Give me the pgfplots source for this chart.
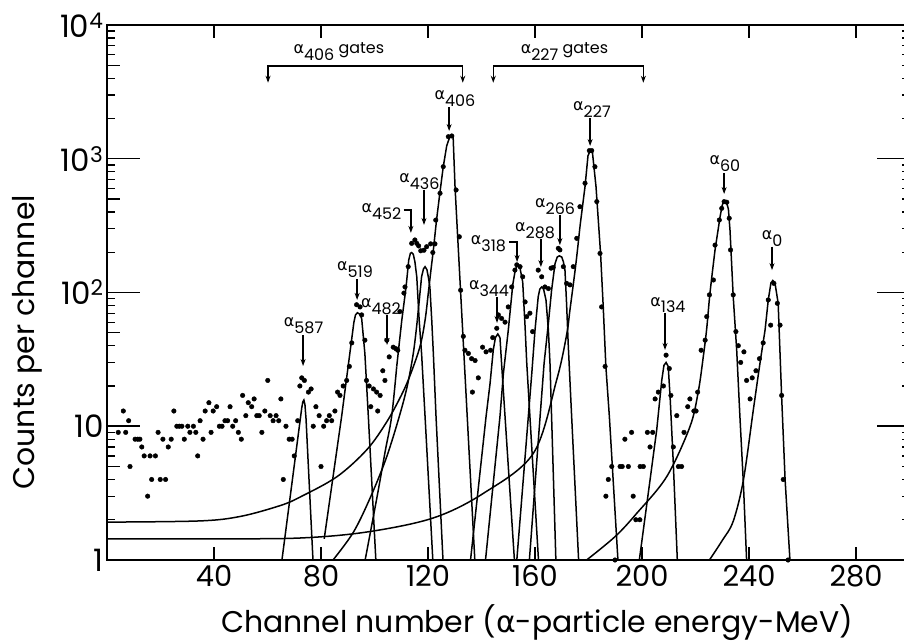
\documentclass[border=0pt]{standalone}
\usepackage{pgfplots}
\pgfplotsset{compat=1.18}
\usepackage{fontspec}
\setmainfont{Poppins}
\newfontfamily\grk{DejaVu Sans}
\usetikzlibrary{arrows.meta}

% peak label: alpha with lowered level energy
\newcommand{\al}[1]{{\grk α}\raisebox{-0.42em}{#1}}

\begin{document}
\begin{tikzpicture}[x=1bp,y=1bp]
\useasboundingbox (-107,-84) rectangle (797,560);
\begin{axis}[
  at={(0,0)}, anchor=south west,
  scale only axis, width=802.5bp, height=535bp,
  xmin=0, xmax=300, ymin=1, ymax=10000, ymode=log,
  clip mode=individual,
  axis line style={line width=2bp},
  xtick={40,80,120,160,200,240,280},
  xticklabels={40,80,120,160,200,240,280},
  ytick={1,10,100,1000,10000},
  yticklabels={1,10,10\textsuperscript{2},10\textsuperscript{3},10\textsuperscript{4}},
  minor ytick={2,3,4,5,6,7,8,9,20,30,40,50,60,70,80,90,200,300,400,500,600,700,800,900,2000,3000,4000,5000,6000,7000,8000,9000},
  tick style={black, line width=1.3bp},
  major tick length=13bp, minor tick length=8bp,
  xticklabel style={font=\fontsize{29}{29}\selectfont, yshift=-2bp},
  yticklabel style={font=\fontsize{31}{31}\selectfont},
  every axis plot/.append style={black},
]

% measured counts per channel
\addplot[only marks, mark=*, mark size=2.3bp] coordinates {
(4.2,9)(6.1,13)(7.0,9)(8.1,11)(8.6,5)(10.5,8)(11.5,8)(12.3,8)(13.0,7)(13.9,6)
(15.2,3)(16.1,6)(16.7,4)(18.1,6)(19.1,9)(19.9,4)(20.9,8)(21.9,4)(22.9,7)(24.0,8)
(25.0,13)(26.1,10)(27.0,10)(28.0,10)(28.9,8)(30.2,10)(31.0,9)(32.3,10)(33.2,9)(33.9,6)
(34.8,11)(35.9,8)(36.7,13)(38.1,15)(38.9,9)(39.7,13)(41.0,14)(42.0,10)(43.0,10)(44.1,11)
(45.1,11)(46.0,14)(47.0,10)(48.1,11)(49.1,9)(50.2,8)(50.7,17)(51.9,12)(52.8,15)(54.1,14)
(55.0,16)(56.0,12)(56.9,12)(57.9,9)(59.0,13)(60.1,22)(61.0,12)(62.1,11)(63.2,12)(64.2,11)
(65.0,16)(65.9,4)(66.9,10)(68.1,8)(69.2,8)(70.0,6)(71.3,11)(72.1,20)(72.8,23)(73.8,22)
(75.3,18)(76.3,19)(77.1,10)(78.1,14)(79.3,12)(80.0,5)(81.0,10)(82.1,11)(83.1,12)(84.0,11)
(85.2,13)(86.2,18)(87.1,17)(88.3,20)(89.6,22)(90.6,28)(91.5,42)(93.3,81)(94.6,78)(95.2,68)
(96.4,44)(97.0,22)(98.0,20)(98.6,14)(99.6,19)(100.8,18)(101.2,13)(102.1,17)(103.1,26)(103.9,22)
(104.6,44)(105.5,33)(107.0,39)(108.0,38)(108.7,37)(109.5,72)(111.0,99)(111.4,110)(112.6,156)(113.9,233)
(115.1,247)(115.8,233)(116.5,223)(117.3,205)(118.5,207)(119.5,220)(121.0,231)(121.8,199)(122.6,231)(122.9,348)
(124.5,552)(125.7,872)(127.6,1462)(128.9,1480)(130.5,584)(131.7,261)(132.2,104)(133.2,47)(133.8,37)(135.1,35)
(136.3,32)(137.6,31)(136.6,18)(138.8,23)(140.4,39)(141.7,36)(143.4,37)(144.2,46)(145.7,54)(146.3,68)
(147.5,64)(148.8,60)(150.0,78)(151.3,110)(152.5,147)(153.2,161)(154.4,156)(155.4,131)(156.3,85)(156.9,66)
(158.1,70)(159.1,51)(161.2,147)(162.5,131)(163.7,110)(165.0,107)(166.0,152)(166.8,154)(168.7,214)(169.3,208)
(170.6,156)(171.8,117)(173.1,114)(174.3,156)(175.6,254)(176.8,438)(178.7,656)(180.3,1150)(181.2,1150)(182.4,872)
(183.1,478)(184.3,196)(184.9,78)(186.2,28)(187.4,4)(186.5,3)(188.7,5)(189.9,1)(191.8,5)(192.6,5)
(194.9,5)(193.6,8)(196.1,9)(196.7,3)(197.7,2)(199.2,2)(199.3,5)(200.5,5)(202.0,9)(203.0,7)
(204.0,9)(204.9,16)(206.1,18)(208.0,20)(209.0,34)(210.2,27)(210.8,17)(211.7,7)(213.0,12)(213.6,5)
(214.8,5)(215.7,9)(217.1,14)(217.9,16)(219.4,13)(220.2,13)(220.8,18)(222.1,37)(223.6,44)(224.2,66)
(225.2,96)(226.7,124)(227.3,226)(228.9,348)(229.8,426)(230.7,478)(231.7,473)(232.6,359)(233.1,208)(234.1,96)
(235.1,51)(236.0,40)(236.9,30)(238.1,36)(239.1,22)(240.4,16)(241.2,23)(242.6,26)(243.9,32)(245.3,42)
(247.2,88)(248.1,57)(249.3,117)(250.6,83)(251.6,57)(252.2,17)(252.8,4)(254.6,1)
};

% fitted line shapes: smooth low-energy tails, sharp peak bodies
\pgfplotsset{fit/.style={black, line width=1.5bp, no markers},
             tail/.style={fit, smooth, tension=0.55}}
\addplot[fit] coordinates {(65.4,1)(72.8,13.7)(73.2,15.2)(73.6,15.7)(74.0,14.5)(74.4,11.4)(77.0,1)};
\addplot[fit] coordinates {(81.2,1.44)(87.7,11.8)(92.3,60)(92.9,68)(93.6,70.6)(94.4,69)(95.2,64)(96.4,35)(97.7,11.8)(100.5,1)};
\addplot[tail] coordinates {(96.5,1)(101,3)(104,6.5)(106.4,11.8)(108.3,27.9)};
\addplot[fit] coordinates {(108.3,27.9)(110.2,62)(111.8,110)(112.8,175)(113.4,196)(113.9,199)(114.5,193)(115.1,170)(115.8,131)(116.7,62)(117.6,35)(118.9,11.8)(121.8,1)};
\addplot[tail] coordinates {(84.5,1)(92,1.6)(98,2.8)(104,5.5)(108.5,10.5)(112,19)(114.5,35)(116,62)};
\addplot[fit] coordinates {(116,62)(117.6,131)(118.3,150)(118.9,156)(119.6,148)(120.2,128)(120.7,110)(121.4,62)(122,35)(123,11.8)(125.6,1)};
\addplot[tail] coordinates {(0,1.92)(34.8,1.96)(50,2.12)(64.7,2.55)(72.1,2.95)(86,4.2)(97.2,6.7)(104.6,10.8)(110,17)(113.3,24)(117,39.4)(118.9,62)(120.1,98.6)(121.1,147)(122,208)(123.2,348)(124.5,567)};
\addplot[fit] coordinates {(124.5,567)(125.7,872)(127,1250)(128,1430)(128.8,1480)(129.4,1450)(130.1,620)(131,282)(132.2,100)(133.8,25)(135.5,5.7)(137.5,1)};
\addplot[fit] coordinates {(135.9,1)(141.7,11.8)(143.2,20.9)(144.4,37.2)(145.2,46)(146.1,49)(146.9,46)(147.5,29.6)(148.8,11.8)(152.3,1)};
\addplot[fit] coordinates {(141.5,1)(146.9,11.8)(148.2,25)(150,52)(151.7,115)(152.7,150)(153.5,161)(154.4,152)(155.4,120)(156.3,55)(156.9,30)(158.1,11.8)(161.3,1)};
\addplot[fit] coordinates {(153.2,1)(157.5,11.8)(158.8,24.9)(160,52.3)(161.2,93)(161.8,106)(162.5,110)(163.2,106)(164.1,88)(165,52.3)(165.6,29.6)(166.2,11.8)(167.8,1)};
\addplot[fit] coordinates {(157.9,1)(161.9,11.8)(163.4,29.6)(165,58.9)(166.2,104)(167.5,165)(168.3,184)(169.1,188)(170,184)(170.6,170)(171.2,147)(171.8,83)(172.4,41.6)(173.7,11.8)(176.3,1)};
\addplot[tail] coordinates {(0,1.436)(40,1.44)(72.1,1.46)(97.2,1.62)(121.9,2.06)(140.7,3.15)(159.4,6.28)(168.1,22.2)(171.8,48)(173.1,75)(175.3,165)(176.8,310)};
\addplot[fit] coordinates {(176.8,310)(178.7,620)(179.8,1050)(180.6,1150)(181.5,1100)(182.8,620)(184.5,197)(185.5,78.5)(186.5,27.8)(187.8,11.8)(191,1)};
\addplot[fit] coordinates {(199,1)(203,3.96)(205.5,9.4)(207.4,22.2)(208.2,28.5)(209,30)(209.8,28)(210.5,16.6)(211.7,5.3)(213.2,1)};
\addplot[tail] coordinates {(179.3,1)(190,1.5)(198,2.23)(209.2,4.19)(217.9,9.9)(221,18)(222.9,33)(224.2,54)(225.4,98.6)(227.3,208)};
\addplot[fit] coordinates {(227.3,208)(229.2,370)(230,450)(230.7,486)(231.5,480)(232.3,420)(232.9,291)(234.1,93)(235.4,37)(236.6,11.8)(237.9,3.74)(239.1,1)};
\addplot[tail] coordinates {(225.2,1)(230,1.4)(234.1,1.95)(237.9,3.96)(241.6,13.2)(244.1,29.6)(246,52.3)};
\addplot[fit] coordinates {(246,52.3)(247.2,88)(248.2,118)(248.9,123)(249.7,118)(250.9,83)(252.2,16.6)(253.5,3.96)(255.3,1)};

% long decade ticks and mid-decade ticks
\draw[line width=1.5bp] (axis cs:0,10) -- ++(33bp,0pt);
\draw[line width=1.5bp] (axis cs:0,100) -- ++(33bp,0pt);
\draw[line width=1.5bp] (axis cs:0,1000) -- ++(33bp,0pt);
\draw[line width=1.5bp] (axis cs:300,10) -- ++(-33bp,0pt);
\draw[line width=1.5bp] (axis cs:300,100) -- ++(-33bp,0pt);
\draw[line width=1.5bp] (axis cs:300,1000) -- ++(-33bp,0pt);
\draw[line width=1.3bp] (axis cs:0,5) -- ++(13bp,0pt);
\draw[line width=1.3bp] (axis cs:0,50) -- ++(13bp,0pt);
\draw[line width=1.3bp] (axis cs:0,500) -- ++(13bp,0pt);
\draw[line width=1.3bp] (axis cs:0,5000) -- ++(13bp,0pt);

% gate brackets
\tikzset{arr/.style={line width=1.3bp, -{Stealth[length=7bp,width=5bp]}}}
\draw[line width=1.3bp, {Stealth[length=7bp,width=5bp]}-{Stealth[length=7bp,width=5bp]}]
  (axis cs:60.2,3700) -- (axis cs:60.2,4938) -- (axis cs:133,4938) -- (axis cs:133,3700);
\draw[line width=1.3bp, {Stealth[length=7bp,width=5bp]}-{Stealth[length=7bp,width=5bp]}]
  (axis cs:144.4,3700) -- (axis cs:144.4,4938) -- (axis cs:200.5,4938) -- (axis cs:200.5,3700);
\tikzset{lbl/.style={font=\fontsize{16}{16}\selectfont, inner sep=0pt}}
\node[lbl, anchor=base] at (axis cs:86.7,6100) {\al{406} gates};
\node[lbl, anchor=base] at (axis cs:171,6100) {\al{227} gates};

% peak labels
\node[lbl, anchor=base] at (axis cs:130.1,2750) {\al{406}};
\draw[arr] (axis cs:127.9,2420) -- (axis cs:127.9,1612);
\node[lbl, anchor=base] at (axis cs:181.3,2280) {\al{227}};
\draw[arr] (axis cs:180.6,2000) -- (axis cs:180.6,1245);
\node[lbl, anchor=base] at (axis cs:231,900) {\al{60}};
\draw[arr] (axis cs:230.7,780) -- (axis cs:230.7,545);
\node[lbl, anchor=base] at (axis cs:248.6,247) {\al{0}};
\draw[arr] (axis cs:248.6,220) -- (axis cs:248.6,147);
\node[lbl, anchor=base] at (axis cs:209.7,79) {\al{134}};
\draw[arr] (axis cs:208.6,70) -- (axis cs:208.6,37.2);
\node[lbl, anchor=base] at (axis cs:167.5,430) {\al{266}};
\draw[arr] (axis cs:169.3,380) -- (axis cs:169.3,226);
\node[lbl, anchor=base] at (axis cs:160,284) {\al{288}};
\draw[arr] (axis cs:162.2,250) -- (axis cs:162.2,155);
\node[lbl, anchor=base] at (axis cs:142.6,228) {\al{318}};
\draw[arr] (axis cs:150.3,239) -- (axis cs:153.3,239) -- (axis cs:153.3,169);
\node[lbl, anchor=base] at (axis cs:142.8,105) {\al{344}};
\draw[arr] (axis cs:145.8,92) -- (axis cs:145.8,59.2);
\node[lbl, anchor=base] at (axis cs:102.6,395) {\al{452}};
\draw[arr] (axis cs:110.9,414) -- (axis cs:113.6,414) -- (axis cs:113.6,279);
\node[lbl, anchor=base] at (axis cs:116.8,662) {\al{436}};
\draw[arr] (axis cs:118.5,585) -- (axis cs:118.5,320);
\node[lbl, anchor=base] at (axis cs:92.7,146) {\al{519}};
\draw[arr] (axis cs:93.5,126) -- (axis cs:93.5,88);
\node[lbl, anchor=base] at (axis cs:102.4,77) {\al{482}};
\draw[arr] (axis cs:104.7,68) -- (axis cs:104.7,40.5);
\node[lbl, anchor=base] at (axis cs:73.5,55.5) {\al{587}};
\draw[arr] (axis cs:73.3,48) -- (axis cs:73.3,28.2);

% axis titles
\node[font=\fontsize{30}{30}\selectfont, anchor=base] at (axis description cs:0.536,-0.1346)
  {Channel number ({\grk α}-particle energy-MeV)};
\node[font=\fontsize{30}{30}\selectfont, rotate=90, anchor=center] at (axis description cs:-0.0997,0.407)
  {Counts per channel};
\end{axis}
\end{tikzpicture}
\end{document}
